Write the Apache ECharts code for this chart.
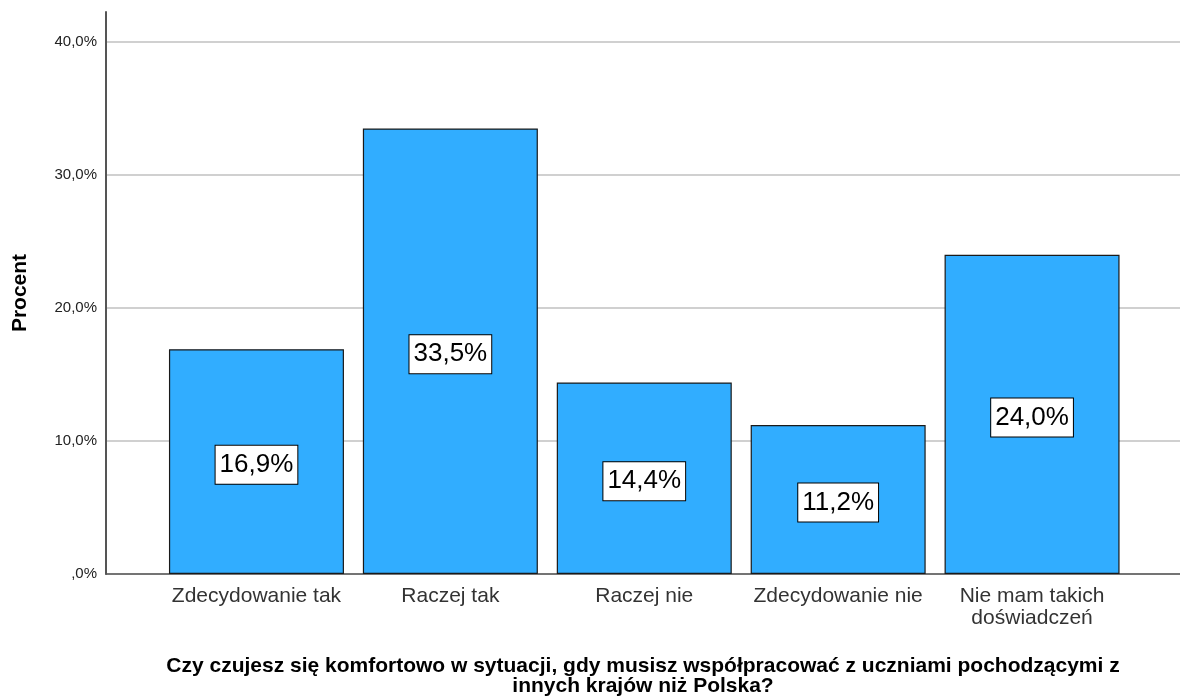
<!DOCTYPE html>
<html>
<head>
<meta charset="utf-8">
<script src="https://cdn.jsdelivr.net/npm/echarts@6/dist/echarts.min.js"></script>
<style>
  html, body { margin: 0; padding: 0; background: #fff; }
  #chart { width: 1180px; height: 699px; }
</style>
</head>
<body>
<div id="chart"></div>
<script>
// dane
const categories = ['Zdecydowanie tak', 'Raczej tak', 'Raczej nie', 'Zdecydowanie nie', 'Nie mam takich\ndoświadczeń'];
const percents = [16.9, 33.5, 14.4, 11.2, 24.0];
const yTicks = [0, 10, 20, 30, 40];
const xTicks = [0, 1, 2, 3, 4];

const fmt = v => (v === 0 ? ',0%' : v.toFixed(1).replace('.', ',') + '%');

const chart = echarts.init(document.getElementById('chart'));
const option = {
  animation: false,
  textStyle: { fontFamily: 'Liberation Sans, Arial, sans-serif' },
  grid: { left: 106, right: 0, top: 12, bottom: 125, containLabel: false, outerBoundsMode: 'none' },
  xAxis: {
    type: 'value',
    min: -0.776,
    max: 4.763,
    name: 'Czy czujesz się komfortowo w sytuacji, gdy musisz współpracować z uczniami pochodzącymi z\ninnych krajów niż Polska?',
    nameLocation: 'middle',
    nameGap: 82,
    nameTextStyle: { color: '#000', fontSize: 21, fontWeight: 'bold', lineHeight: 20 },
    axisLine: { show: true, onZero: false, lineStyle: { color: '#555', width: 1.5 } },
    axisTick: { show: false, customValues: xTicks },
    splitLine: { show: false },
    axisLabel: {
      customValues: xTicks,
      color: '#333',
      fontSize: 21,
      lineHeight: 22,
      margin: 11,
      formatter: v => categories[Math.round(v)]
    }
  },
  yAxis: {
    type: 'value',
    min: 0,
    max: 42.26,
    name: 'Procent',
    nameLocation: 'middle',
    nameGap: 75,
    nameTextStyle: { color: '#000', fontSize: 21, fontWeight: 'bold' },
    axisLine: { show: true, onZero: false, lineStyle: { color: '#555', width: 2 } },
    axisTick: { show: false, customValues: yTicks },
    splitLine: { show: true, lineStyle: { color: '#c0c0c0', width: 1.5 } },
    axisLabel: {
      customValues: yTicks,
      color: '#222',
      fontSize: 15,
      margin: 9,
      formatter: fmt
    }
  },
  series: [{
    type: 'bar',
    barWidth: 175,
    data: percents.map((p, i) => [i, p]),
    itemStyle: { color: '#31adff', borderColor: '#1a1a1a', borderWidth: 1.2 },
    label: {
      show: true,
      position: 'inside',
      offset: [0, 3],
      color: '#000',
      fontSize: 26,
      backgroundColor: '#fff',
      borderColor: '#000',
      borderWidth: 1,
      padding: [7, 4, 5, 4],
      formatter: p => p.value[1].toFixed(1).replace('.', ',') + '%'
    }
  }]
};
chart.setOption(option);
</script>
</body>
</html>
